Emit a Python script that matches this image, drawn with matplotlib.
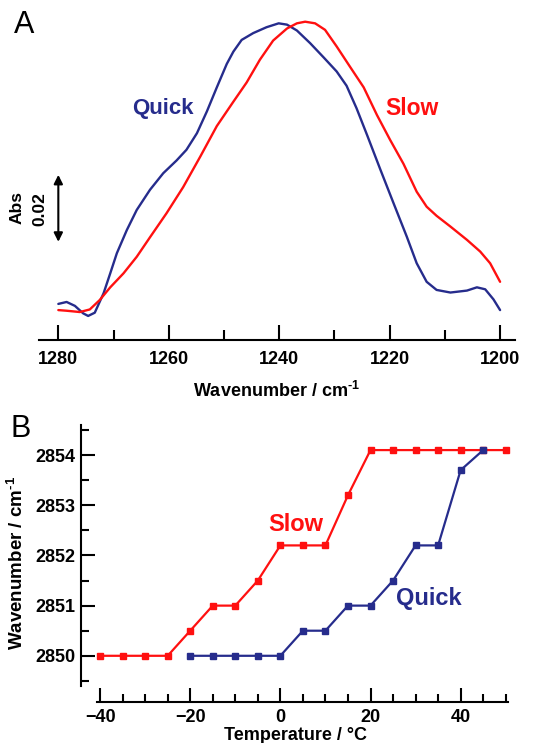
import matplotlib
matplotlib.use("Agg")
import matplotlib.pyplot as plt

plt.rcParams['font.family'] = ['Liberation Sans', 'DejaVu Sans']
plt.rcParams['font.weight'] = 'bold'
plt.rcParams['mathtext.fontset'] = 'custom'
plt.rcParams['mathtext.bf'] = 'Liberation Sans:bold'
plt.rcParams['mathtext.rm'] = 'Liberation Sans:bold'
plt.rcParams['mathtext.default'] = 'bf'

# ---------------- Panel A data ----------------
quick_wn = [1280.0, 1278.5, 1277.0, 1275.5, 1274.6, 1273.4, 1271.8, 1270.6, 1269.4, 1267.6,
            1265.8, 1263.4, 1261.0, 1258.6, 1256.8, 1254.9, 1253.1, 1251.3, 1249.5, 1248.3,
            1246.8, 1244.7, 1242.3, 1240.1, 1238.6, 1236.8, 1234.4, 1232.0, 1229.6, 1227.8,
            1226.0, 1224.1, 1221.7, 1219.3, 1216.9, 1215.1, 1213.3, 1211.5, 1209.0, 1206.0,
            1204.2, 1202.7, 1201.2, 1200.0]
quick_abs = [0.0111, 0.0117, 0.0105, 0.0082, 0.0074, 0.0084, 0.0144, 0.0205, 0.0267, 0.0338,
             0.0400, 0.0462, 0.0513, 0.0552, 0.0585, 0.0636, 0.0703, 0.0777, 0.0849, 0.0887,
             0.0923, 0.0944, 0.0962, 0.0974, 0.0970, 0.0952, 0.0913, 0.0870, 0.0826, 0.0782,
             0.0713, 0.0631, 0.0525, 0.0421, 0.0318, 0.0236, 0.0179, 0.0154, 0.0146, 0.0152,
             0.0162, 0.0156, 0.0125, 0.0092]

slow_wn = [1280.0, 1278.5, 1276.1, 1274.3, 1272.5, 1270.6, 1268.2, 1265.8, 1263.4, 1260.4,
           1257.4, 1254.3, 1251.3, 1248.3, 1245.9, 1243.5, 1241.1, 1238.6, 1236.8, 1235.3,
           1233.5, 1231.7, 1229.6, 1227.2, 1224.7, 1222.3, 1219.9, 1217.5, 1215.1, 1213.3,
           1211.5, 1209.0, 1206.0, 1203.6, 1201.8, 1200.0]
slow_abs = [0.0092, 0.0090, 0.0086, 0.0094, 0.0123, 0.0162, 0.0205, 0.0256, 0.0316, 0.0390,
            0.0470, 0.0564, 0.0658, 0.0733, 0.0792, 0.0862, 0.0921, 0.0958, 0.0974, 0.0979,
            0.0974, 0.0954, 0.0903, 0.0841, 0.0777, 0.0692, 0.0615, 0.0542, 0.0456, 0.0410,
            0.0382, 0.0349, 0.0308, 0.0272, 0.0236, 0.0179]

wn_ticks = [1280, 1260, 1240, 1220, 1200]

# ---------------- Panel B data ----------------
slow_T = [-40, -35, -30, -25, -20, -15, -10, -5, 0, 5, 10, 15, 20, 25, 30, 35, 40, 45, 50]
slow_nu = [2850.0, 2850.0, 2850.0, 2850.0, 2850.5, 2851.0, 2851.0, 2851.5, 2852.2, 2852.2,
           2852.2, 2853.2, 2854.1, 2854.1, 2854.1, 2854.1, 2854.1, 2854.1, 2854.1]
quick_T = [-20, -15, -10, -5, 0, 5, 10, 15, 20, 25, 30, 35, 40, 45]
quick_nu = [2850.0, 2850.0, 2850.0, 2850.0, 2850.0, 2850.5, 2850.5, 2851.0, 2851.0, 2851.5,
            2852.2, 2852.2, 2853.7, 2854.1]
T_ticks = [-40, -20, 0, 20, 40]
nu_ticks = [2850, 2851, 2852, 2853, 2854]

RED = '#FF1010'
BLUE = '#262C8C'

W, H = 552, 743
fig = plt.figure(figsize=(W / 100, H / 100), dpi=100)


def rect(l, t, r, b):
    return [l / W, 1 - b / H, (r - l) / W, (b - t) / H]


UNIT = r'Wavenumber / cm$^{\text{-1}}$'

# ================= Panel A =================
axA = fig.add_axes(rect(39, 10, 515, 340))
axA.plot(quick_wn, quick_abs, color=BLUE, lw=1.7, solid_joinstyle='round',
         solid_capstyle='round')
axA.plot(slow_wn, slow_abs, color=RED, lw=1.7, solid_joinstyle='round',
         solid_capstyle='round')
axA.set_xlim(1283.5, 1197.3)
axA.set_ylim(0, 0.1015)
for s in ['left', 'right', 'top']:
    axA.spines[s].set_visible(False)
axA.spines['bottom'].set_linewidth(1.5)
axA.set_yticks([])
axA.set_xticks(wn_ticks)
axA.set_xticks([1270, 1250, 1230, 1210], minor=True)
axA.tick_params(axis='x', which='major', direction='in', length=11, width=1.5,
                labelsize=13, pad=8)
axA.tick_params(axis='x', which='minor', direction='in', length=7, width=1.5)
axA.set_xlabel(UNIT, fontsize=13, fontweight='bold', labelpad=9)
axA.text(1261, 0.0713, 'Quick', color=BLUE, fontsize=16, fontweight='bold',
         ha='center', va='center')
axA.text(1216, 0.0713, 'Slow', color=RED, fontsize=16.5, fontweight='bold',
         ha='center', va='center')
# scale bar
axA.annotate('', xy=(1280, 0.0508), xytext=(1280, 0.0302),
             arrowprops=dict(arrowstyle='<|-|>', color='black', lw=1.5,
                             mutation_scale=13, shrinkA=0, shrinkB=0))
fig.text(17.5 / W, 1 - 208 / H, 'Abs', rotation=90, fontsize=12.5, fontweight='bold',
         ha='center', va='center')
fig.text(40 / W, 1 - 209 / H, '0.02', rotation=90, fontsize=12.5, fontweight='bold',
         ha='center', va='center')
fig.text(24 / W, 1 - 25 / H, 'A', fontsize=22, fontweight='normal', ha='center', va='center')

# ================= Panel B =================
axB = fig.add_axes(rect(80.7, 425, 510, 701.7))
axB.plot(slow_T, slow_nu, color=RED, lw=1.6, marker='s', ms=4.7, clip_on=False, zorder=3)
axB.plot(quick_T, quick_nu, color=BLUE, lw=1.6, marker='s', ms=4.7, clip_on=False, zorder=3)
axB.set_xlim(-44.3, 50.95)
axB.set_ylim(2849.085, 2854.6)
for s in ['right', 'top']:
    axB.spines[s].set_visible(False)
axB.spines['left'].set_bounds(2849.4, 2854.6)
axB.spines['bottom'].set_bounds(-40.7, 50.55)
axB.spines['left'].set_linewidth(1.5)
axB.spines['bottom'].set_linewidth(1.5)
axB.set_xticks(T_ticks)
axB.set_xticks([-35, -30, -25, -15, -10, -5, 5, 10, 15, 25, 30, 35, 45, 50], minor=True)
axB.set_yticks(nu_ticks)
axB.set_yticks([2849.5, 2850.5, 2851.5, 2852.5, 2853.5, 2854.5], minor=True)
axB.tick_params(axis='both', which='major', direction='in', length=10, width=1.5,
                labelsize=13)
axB.tick_params(axis='both', which='minor', direction='in', length=6, width=1.5)
axB.tick_params(axis='x', which='major', pad=5)
axB.tick_params(axis='y', which='major', pad=4)
axB.set_xlabel('Temperature / °C', fontsize=13, fontweight='bold', labelpad=1)
axB.set_ylabel(UNIT, fontsize=13.5, fontweight='bold', labelpad=6)
axB.text(3.5, 2852.62, 'Slow', color=RED, fontsize=17, fontweight='bold',
         ha='center', va='center')
axB.text(33.0, 2851.15, 'Quick', color=BLUE, fontsize=17, fontweight='bold',
         ha='center', va='center')
fig.text(21 / W, 1 - 429 / H, 'B', fontsize=22, fontweight='normal', ha='center', va='center')

fig.savefig('out.png', dpi=100)
